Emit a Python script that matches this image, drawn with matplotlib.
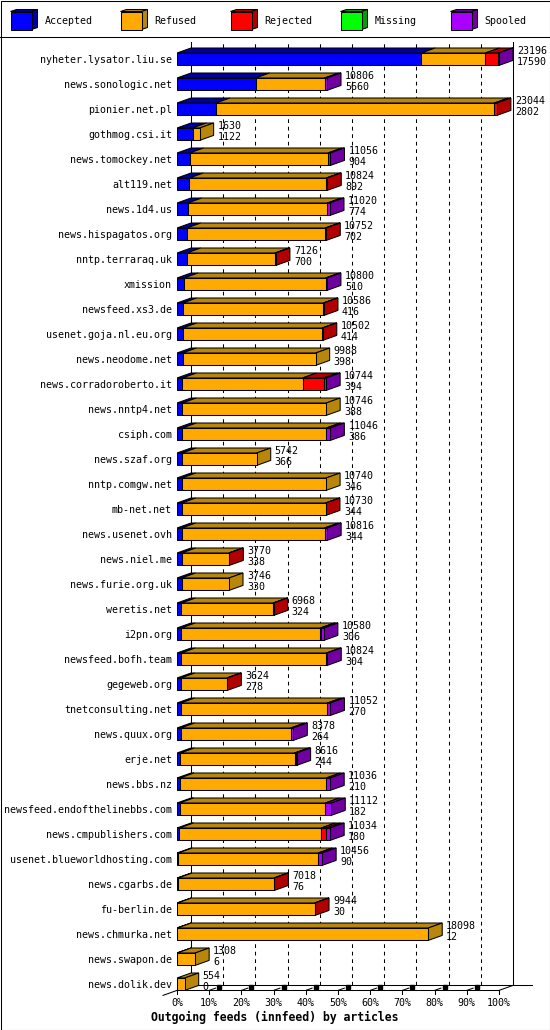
import matplotlib
matplotlib.use('Agg')
import matplotlib.pyplot as plt
from matplotlib.patches import Polygon, Rectangle
from matplotlib.transforms import offset_copy

#%% Data

hosts = ['nyheter.lysator.liu.se', 'news.sonologic.net', 'pionier.net.pl', 'gothmog.csi.it',
         'news.tomockey.net', 'alt119.net', 'news.1d4.us', 'news.hispagatos.org',
         'nntp.terraraq.uk', 'xmission', 'newsfeed.xs3.de', 'usenet.goja.nl.eu.org',
         'news.neodome.net', 'news.corradoroberto.it', 'news.nntp4.net', 'csiph.com',
         'news.szaf.org', 'nntp.comgw.net', 'mb-net.net', 'news.usenet.ovh',
         'news.niel.me', 'news.furie.org.uk', 'weretis.net', 'i2pn.org',
         'newsfeed.bofh.team', 'gegeweb.org', 'tnetconsulting.net', 'news.quux.org',
         'erje.net', 'news.bbs.nz', 'newsfeed.endofthelinebbs.com', 'news.cmpublishers.com',
         'usenet.blueworldhosting.com', 'news.cgarbs.de', 'fu-berlin.de', 'news.chmurka.net',
         'news.swapon.de', 'news.dolik.dev']

# offered articles (upper number) and accepted articles (lower number)
totals = [23196, 10806, 23044, 1630, 11056, 10824, 11020, 10752, 7126, 10800,
          10586, 10502, 9988, 10744, 10746, 11046, 5742, 10740, 10730, 10816,
          3770, 3746, 6968, 10580, 10824, 3624, 11052, 8378, 8616, 11036,
          11112, 11034, 10456, 7018, 9944, 18098, 1308, 554]
accepted = [17590, 5660, 2802, 1122, 904, 892, 774, 702, 700, 510,
            416, 414, 398, 394, 388, 386, 366, 346, 344, 344,
            338, 330, 324, 306, 304, 278, 270, 264, 244, 210,
            182, 180, 90, 76, 30, 12, 6, 0]

# the other segments
refused = [4629, 4966, 20062, 508, 9962, 9862, 10056, 9980, 6356, 10190,
           10130, 10048, 9590, 8647, 10358, 10370, 5376, 10394, 10356, 10282,
           3402, 3416, 6614, 10024, 10460, 3316, 10566, 7924, 8222, 10536,
           10500, 10204, 10076, 6912, 9884, 18086, 1302, 554]
rejected = [937, 0, 180, 0, 0, 70, 0, 70, 70, 0,
            40, 40, 0, 1513, 0, 0, 0, 0, 30, 0,
            30, 0, 30, 70, 0, 30, 0, 0, 90, 0,
            0, 360, 0, 30, 30, 0, 0, 0]
missing = [0, 0, 0, 0, 0, 0, 0, 0, 0, 0,
           0, 0, 0, 0, 0, 0, 0, 0, 0, 0,
           0, 0, 0, 0, 0, 0, 0, 0, 0, 0,
           0, 0, 0, 0, 0, 0, 0, 0]
spooled = [40, 180, 0, 0, 190, 0, 190, 0, 0, 100,
           0, 0, 0, 190, 0, 290, 0, 0, 0, 190,
           0, 0, 0, 180, 60, 0, 216, 190, 60, 290,
           430, 290, 290, 0, 0, 0, 0, 0]

series_names = ['Accepted', 'Refused', 'Rejected', 'Missing', 'Spooled']
pct_ticks = [0, 10, 20, 30, 40, 50, 60, 70, 80, 90, 100]

#%% Styles

front_cols = ['#0000ff', '#ffaa00', '#ff0000', '#00ff00', '#aa00ff']
dark_cols = ['#0000a0', '#b8860b', '#b00000', '#00a000', '#7000a0']
mono = 'DejaVu Sans Mono'
fs = 7.2
lw = 0.75

W, H = 550, 1030
fig = plt.figure(figsize=(W / 100, H / 100), dpi=100)

# background axes in pixel units: frame and legend
bg = fig.add_axes([0, 0, 1, 1], zorder=0)
bg.set_xlim(0, W)
bg.set_ylim(H, 0)
bg.axis('off')
bg.add_patch(Rectangle((0.5, 0.5), W - 1, H - 1, fill=False, ec='black', lw=lw))
bg.plot([0, W], [36.5, 36.5], color='black', lw=lw)

for j, name in enumerate(series_names):
    x0 = 10.5 + 110 * j
    bg.add_patch(Polygon([(x0, 11.5), (x0 + 21, 11.5), (x0 + 27, 9.5), (x0 + 6, 9.5)],
                         fc=dark_cols[j], ec='black', lw=lw))
    bg.add_patch(Polygon([(x0 + 21, 11.5), (x0 + 21, 29.5), (x0 + 27, 27.5), (x0 + 27, 9.5)],
                         fc=dark_cols[j], ec='black', lw=lw))
    bg.add_patch(Rectangle((x0, 11.5), 21, 18, fc=front_cols[j], ec='black', lw=lw))
    bg.text(x0 + 34, 24, name, fontsize=fs, family=mono, va='baseline')

#%% Main chart axes (x in articles, y in rows)

n = len(hosts)
xmax = max(totals)
px_per = 322 / xmax          # 100% of the largest total spans 322 px
pitch = 25                   # px between rows
row0 = 59.2                  # px of first row centre

ax = fig.add_axes([177 / W, 1 - 991 / H, (547 - 177) / W, (991 - 42) / H], zorder=1)
ax.set_facecolor('none')
ax.set_xlim(0, (547 - 177) / px_per)
ax.set_ylim((991 - row0) / pitch, (42 - row0) / pitch)
ax.axis('off')

DX = 14 / px_per
DY = 5 / pitch
HH = 6.2 / pitch
y_top = (42 - row0) / pitch
yf = n - 1 + HH

# walls and grid
for k in pct_ticks:
    xg = xmax * k / 100 + DX
    if k in (0, 100):
        ax.plot([xg, xg], [yf - DY, y_top], color='black', lw=lw, zorder=1)
    else:
        ax.plot([xg, xg], [yf - DY, y_top], color='black', lw=lw,
                dashes=(3.6, 3.6), zorder=1)

# floor
ax.plot([0, xmax], [yf, yf], color='black', lw=lw, clip_on=False, zorder=1)
ax.plot([DX, xmax + DX + 19 / px_per], [yf - DY, yf - DY], color='black', lw=lw,
        clip_on=False, zorder=1)
ax.plot([-DX, DX], [yf + DY, yf - DY], color='black', lw=lw, clip_on=False, zorder=1)
ax.plot([xmax, xmax + DX], [yf, yf - DY], color='black', lw=lw, clip_on=False, zorder=1)

below = offset_copy(ax.transData, fig, y=-16, units='dots')
for k in pct_ticks:
    xk = xmax * k / 100
    ax.plot([xk, xk], [yf, yf + 4 / pitch], color='black', lw=lw, clip_on=False)
    if 0 < k < 100:
        ax.plot([xk, xk + 0.45 * DX], [yf, yf - 0.45 * DY], color='black', lw=lw,
                clip_on=False)
        ax.plot(xk + 0.72 * DX, yf - 0.72 * DY, marker='s', ms=2.2, color='black',
                clip_on=False)
    ax.text(xk, yf, f'{k}%', transform=below, ha='center', va='baseline',
            fontsize=fs, family=mono)

fig.text(275 / W, 1 - 1021 / H, 'Outgoing feeds (innfeed) by articles', ha='center',
         va='baseline', fontsize=8.3, family=mono, weight='bold')

#%% 3D bars

label_tr = offset_copy(ax.transData, fig, x=-5, y=-4, units='dots')
top_tr = offset_copy(ax.transData, fig, x=18, y=5, units='dots')
bot_tr = offset_copy(ax.transData, fig, x=18, y=-6, units='dots')

series = [accepted, refused, rejected, missing, spooled]
for i in range(n):
    cum = 0
    last = None
    for j, s in enumerate(series):
        val = s[i]
        if val <= 0:
            continue
        x0, x1 = cum, cum + val
        ax.add_patch(Polygon([(x0, i - HH), (x1, i - HH), (x1 + DX, i - HH - DY),
                              (x0 + DX, i - HH - DY)], fc=dark_cols[j], ec='black',
                             lw=lw, zorder=3))
        ax.add_patch(Rectangle((x0, i - HH), val, 2 * HH, fc=front_cols[j], ec='black',
                               lw=lw, zorder=4))
        cum = x1
        last = j
    if last is not None:
        ax.add_patch(Polygon([(cum, i - HH), (cum, i + HH), (cum + DX, i + HH - DY),
                              (cum + DX, i - HH - DY)], fc=dark_cols[last], ec='black',
                             lw=lw, zorder=3))
    ax.text(0, i, hosts[i], transform=label_tr, ha='right', va='baseline',
            fontsize=fs, family=mono, clip_on=False)
    ax.text(totals[i], i, str(totals[i]), transform=top_tr, ha='left', va='baseline',
            fontsize=fs, family=mono, clip_on=False)
    ax.text(totals[i], i, str(accepted[i]), transform=bot_tr, ha='left', va='baseline',
            fontsize=fs, family=mono, clip_on=False)

fig.savefig('out.png', dpi=100)
